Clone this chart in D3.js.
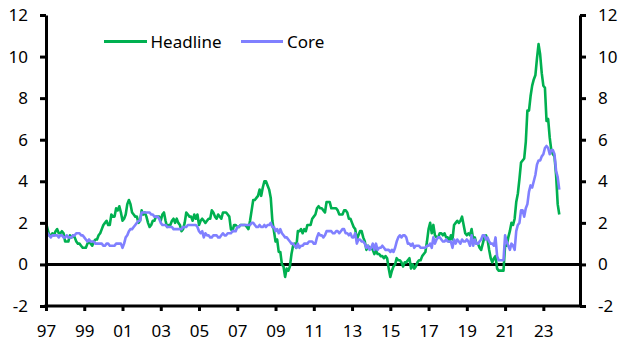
<!DOCTYPE html>
<html>
<head>
<meta charset="utf-8">
<script src="https://cdn.jsdelivr.net/npm/d3@7"></script>
<style>
  html, body { margin: 0; padding: 0; background: #fff; }
  svg { display: block; }
  text { font-family: "Noto Sans", "Open Sans", sans-serif; fill: #000; }
</style>
</head>
<body>
<svg id="chart" width="630" height="355"></svg>
<script>
// ---- Data (monthly, % y/y, Jan 1997 - Nov 2023) ----
const startYear = 1997;
const headline = [
  2.0, 1.7, 1.4, 1.4, 1.5, 1.4, 1.6, 1.7, 1.5, 1.5, 1.6, 1.5,   // 1997
  1.1, 1.1, 1.1, 1.4, 1.3, 1.4, 1.3, 1.1, 1.0, 1.0, 0.9, 0.8,   // 1998
  0.8, 0.8, 1.0, 1.1, 1.0, 0.9, 1.1, 1.2, 1.2, 1.4, 1.5, 1.7,   // 1999
  1.9, 2.0, 2.1, 1.9, 1.9, 2.4, 2.3, 2.3, 2.7, 2.6, 2.8, 2.5,   // 2000
  2.1, 2.2, 2.4, 2.9, 3.1, 2.9, 2.5, 2.4, 2.3, 2.3, 2.0, 2.1,   // 2001
  2.6, 2.4, 2.5, 2.3, 2.0, 1.8, 1.9, 2.1, 2.1, 2.3, 2.3, 2.3,   // 2002
  2.1, 2.4, 2.5, 2.1, 1.8, 1.9, 1.9, 2.1, 2.2, 2.0, 2.2, 2.0,   // 2003
  1.9, 1.6, 1.7, 2.0, 2.5, 2.4, 2.3, 2.3, 2.1, 2.4, 2.2, 2.4,   // 2004
  1.9, 2.1, 2.2, 2.1, 2.0, 2.1, 2.2, 2.2, 2.6, 2.5, 2.3, 2.2,   // 2005
  2.4, 2.3, 2.2, 2.5, 2.5, 2.5, 2.4, 2.3, 1.7, 1.6, 1.9, 1.9,   // 2006
  1.8, 1.8, 1.9, 1.9, 1.9, 1.9, 1.8, 1.7, 2.1, 2.6, 3.1, 3.1,   // 2007
  3.2, 3.3, 3.6, 3.3, 3.7, 4.0, 4.0, 3.8, 3.6, 3.2, 2.1, 1.6,   // 2008
  1.1, 1.2, 0.6, 0.6, 0.0, -0.1, -0.6, -0.2, -0.3, -0.1, 0.5, 0.9, // 2009
  1.0, 0.8, 1.6, 1.6, 1.7, 1.5, 1.7, 1.6, 1.9, 1.9, 1.9, 2.2,   // 2010
  2.3, 2.4, 2.7, 2.8, 2.7, 2.7, 2.6, 2.5, 3.0, 3.0, 3.0, 2.7,   // 2011
  2.7, 2.7, 2.7, 2.6, 2.4, 2.4, 2.4, 2.6, 2.6, 2.5, 2.2, 2.2,   // 2012
  2.0, 1.8, 1.7, 1.2, 1.4, 1.6, 1.6, 1.3, 1.1, 0.7, 0.9, 0.8,   // 2013
  0.8, 0.7, 0.5, 0.7, 0.5, 0.5, 0.4, 0.4, 0.3, 0.4, 0.3, -0.2,  // 2014
  -0.6, -0.3, -0.1, 0.0, 0.3, 0.2, 0.2, 0.1, -0.1, 0.1, 0.1, 0.2, // 2015
  0.3, -0.2, 0.0, -0.2, -0.1, 0.1, 0.2, 0.2, 0.4, 0.5, 0.6, 1.1, // 2016
  1.7, 2.0, 1.5, 1.9, 1.4, 1.3, 1.3, 1.5, 1.5, 1.4, 1.5, 1.3,   // 2017
  1.3, 1.1, 1.4, 1.2, 1.9, 2.0, 2.1, 2.0, 2.1, 2.3, 1.9, 1.5,   // 2018
  1.4, 1.5, 1.4, 1.7, 1.2, 1.3, 1.0, 1.0, 0.8, 0.7, 1.0, 1.3,   // 2019
  1.4, 1.2, 0.7, 0.3, 0.1, 0.3, 0.4, -0.2, -0.3, -0.3, -0.3, -0.3, // 2020
  0.9, 0.9, 1.3, 1.6, 2.0, 1.9, 2.2, 3.0, 3.4, 4.1, 4.9, 5.0,   // 2021
  5.1, 5.9, 7.4, 7.4, 8.1, 8.6, 8.9, 9.1, 9.9, 10.6, 10.1, 9.2, // 2022
  8.6, 8.5, 6.9, 7.0, 6.1, 5.5, 5.3, 5.2, 4.3, 2.9, 2.4         // 2023
];
const core = [
  1.6, 1.5, 1.4, 1.3, 1.4, 1.4, 1.4, 1.4, 1.3, 1.4, 1.4, 1.3,   // 1997
  1.3, 1.4, 1.3, 1.3, 1.3, 1.4, 1.4, 1.5, 1.5, 1.5, 1.4, 1.4,   // 1998
  1.3, 1.2, 1.1, 1.2, 1.1, 1.1, 1.1, 1.0, 1.0, 1.0, 1.0, 1.0,   // 1999
  0.9, 0.9, 1.0, 1.0, 0.9, 0.9, 0.9, 0.9, 1.0, 1.0, 1.0, 1.0,   // 2000
  0.8, 1.0, 1.3, 1.4, 1.6, 1.7, 1.7, 1.8, 1.9, 2.0, 2.1, 2.1,   // 2001
  2.5, 2.5, 2.5, 2.5, 2.5, 2.5, 2.4, 2.4, 2.3, 2.3, 2.3, 2.2,   // 2002
  2.0, 1.9, 1.9, 1.9, 1.8, 1.8, 1.8, 1.8, 1.7, 1.7, 1.7, 1.7,   // 2003
  1.7, 1.7, 1.8, 1.8, 1.8, 1.9, 1.9, 1.9, 1.9, 1.9, 1.9, 1.8,   // 2004
  1.6, 1.5, 1.6, 1.3, 1.5, 1.4, 1.4, 1.3, 1.3, 1.4, 1.4, 1.4,   // 2005
  1.3, 1.3, 1.4, 1.5, 1.4, 1.4, 1.5, 1.5, 1.5, 1.6, 1.6, 1.6,   // 2006
  1.8, 1.8, 1.9, 1.9, 1.9, 1.9, 1.9, 1.9, 1.9, 2.0, 2.0, 1.9,   // 2007
  1.8, 1.8, 1.9, 1.8, 1.8, 1.9, 1.8, 1.9, 1.9, 2.0, 1.8, 1.8,   // 2008
  1.6, 1.7, 1.5, 1.7, 1.5, 1.4, 1.3, 1.3, 1.2, 1.1, 1.0, 1.0,   // 2009
  0.9, 0.8, 1.0, 0.8, 0.9, 0.9, 1.0, 1.0, 1.0, 1.1, 1.1, 1.1,   // 2010
  1.0, 1.0, 1.3, 1.5, 1.4, 1.4, 1.3, 1.4, 1.6, 1.6, 1.6, 1.6,   // 2011
  1.5, 1.5, 1.6, 1.6, 1.5, 1.6, 1.7, 1.7, 1.5, 1.5, 1.4, 1.5,   // 2012
  1.3, 1.3, 1.5, 1.0, 1.2, 1.2, 1.1, 1.1, 1.0, 0.8, 0.9, 0.7,   // 2013
  0.8, 1.0, 0.7, 1.0, 0.7, 0.8, 0.8, 0.9, 0.8, 0.7, 0.7, 0.7,   // 2014
  0.6, 0.7, 0.6, 0.8, 1.1, 1.3, 1.4, 1.3, 1.4, 1.4, 1.3, 1.0,   // 2015
  1.0, 0.9, 1.0, 0.8, 0.9, 0.9, 0.9, 0.8, 0.8, 0.8, 0.8, 0.9,   // 2016
  0.9, 1.0, 0.8, 1.3, 1.0, 1.2, 1.3, 1.3, 1.2, 1.1, 1.1, 1.2,   // 2017
  1.1, 1.1, 1.1, 0.8, 1.2, 1.0, 1.2, 1.1, 1.0, 1.2, 1.1, 1.1,   // 2018
  1.2, 1.1, 0.9, 1.4, 0.9, 1.2, 1.0, 1.0, 1.1, 1.2, 1.4, 1.4,   // 2019
  1.2, 1.3, 1.1, 1.0, 1.0, 0.9, 1.3, 0.4, 0.2, 0.2, 0.2, 0.2,   // 2020
  1.4, 1.1, 0.9, 0.7, 1.0, 0.9, 0.7, 1.6, 1.9, 2.0, 2.6, 2.6,   // 2021
  2.3, 2.7, 2.9, 3.5, 3.8, 3.7, 4.0, 4.3, 4.8, 5.0, 5.0, 5.2,   // 2022
  5.3, 5.6, 5.7, 5.6, 5.3, 5.5, 5.5, 5.3, 4.5, 4.2, 3.6         // 2023
];
const seriesNames = ["Headline", "Core"];
const seriesColors = ["#00B050", "#8080FF"];
const yTicks = [-2, 0, 2, 4, 6, 8, 10, 12];
const yTickLabels = ["-2", "0", "2", "4", "6", "8", "10", "12"];
const xTickYears = [1997, 1999, 2001, 2003, 2005, 2007, 2009, 2011, 2013, 2015, 2017, 2019, 2021, 2023];
const xTickLabels = ["97", "99", "01", "03", "05", "07", "09", "11", "13", "15", "17", "19", "21", "23"];

// ---- Layout ----
const svg = d3.select("#chart");
const plotLeft = 46, plotRight = 580, plotTop = 15, plotBottom = 306;
const lastMonthIndex = (2024 - startYear) * 12 + 11; // Dec 2024

const x = d3.scaleLinear().domain([0, lastMonthIndex]).range([plotLeft, plotRight]);
const y = d3.scaleLinear().domain([-2, 12]).range([plotBottom, plotTop]);

const fontSize = 17;

// zero line
svg.append("line")
  .attr("x1", plotLeft).attr("x2", plotRight)
  .attr("y1", y(0)).attr("y2", y(0))
  .attr("stroke", "#000").attr("stroke-width", 3);

// lines
const lineGen = d3.line()
  .x((d, i) => x(i))
  .y(d => y(d));

[headline, core].forEach((s, k) => {
  svg.append("path")
    .datum(s)
    .attr("fill", "none")
    .attr("stroke", seriesColors[k])
    .attr("stroke-width", 2.6)
    .attr("stroke-linejoin", "round")
    .attr("d", lineGen);
});

// axes
function styleAxis(g) {
  g.select(".domain").attr("stroke", "#000").attr("stroke-width", 3);
  g.selectAll(".tick line").attr("stroke", "#000").attr("stroke-width", 3);
  g.selectAll(".tick text")
    .attr("font-size", fontSize)
    .attr("font-family", "'Noto Sans', 'Open Sans', sans-serif")
    .attr("fill", "#000");
}

const yFmt = (d, i) => yTickLabels[i];

const gL = svg.append("g")
  .attr("transform", `translate(${plotLeft},0)`)
  .call(d3.axisLeft(y).tickValues(yTicks).tickSize(6).tickSizeOuter(0).tickPadding(12).tickFormat(yFmt));
styleAxis(gL);

const gR = svg.append("g")
  .attr("transform", `translate(${plotRight},0)`)
  .call(d3.axisRight(y).tickValues(yTicks).tickSize(6).tickSizeOuter(0).tickPadding(12).tickFormat(yFmt));
styleAxis(gR);

const xTickIdx = xTickYears.map(yr => (yr - startYear) * 12);
const gB = svg.append("g")
  .attr("transform", `translate(0,${plotBottom})`)
  .call(d3.axisBottom(x).tickValues(xTickIdx).tickSize(5).tickSizeOuter(0)
    .tickFormat((d, i) => xTickLabels[i]));
styleAxis(gB);
gB.selectAll(".tick text").attr("y", 31).attr("dy", 0);
gB.select(".domain").attr("d", `M${plotLeft - 1.5},0H${plotRight + 1.5}`);

// legend
const legend = [
  { name: seriesNames[0], color: seriesColors[0], x1: 104, x2: 147, tx: 150.5 },
  { name: seriesNames[1], color: seriesColors[1], x1: 241, x2: 283, tx: 287 }
];
legend.forEach(l => {
  svg.append("line")
    .attr("x1", l.x1).attr("x2", l.x2)
    .attr("y1", 41.5).attr("y2", 41.5)
    .attr("stroke", l.color).attr("stroke-width", 3);
  svg.append("text")
    .attr("x", l.tx).attr("y", 47.8)
    .attr("font-size", fontSize)
    .text(l.name);
});
</script>
</body>
</html>
